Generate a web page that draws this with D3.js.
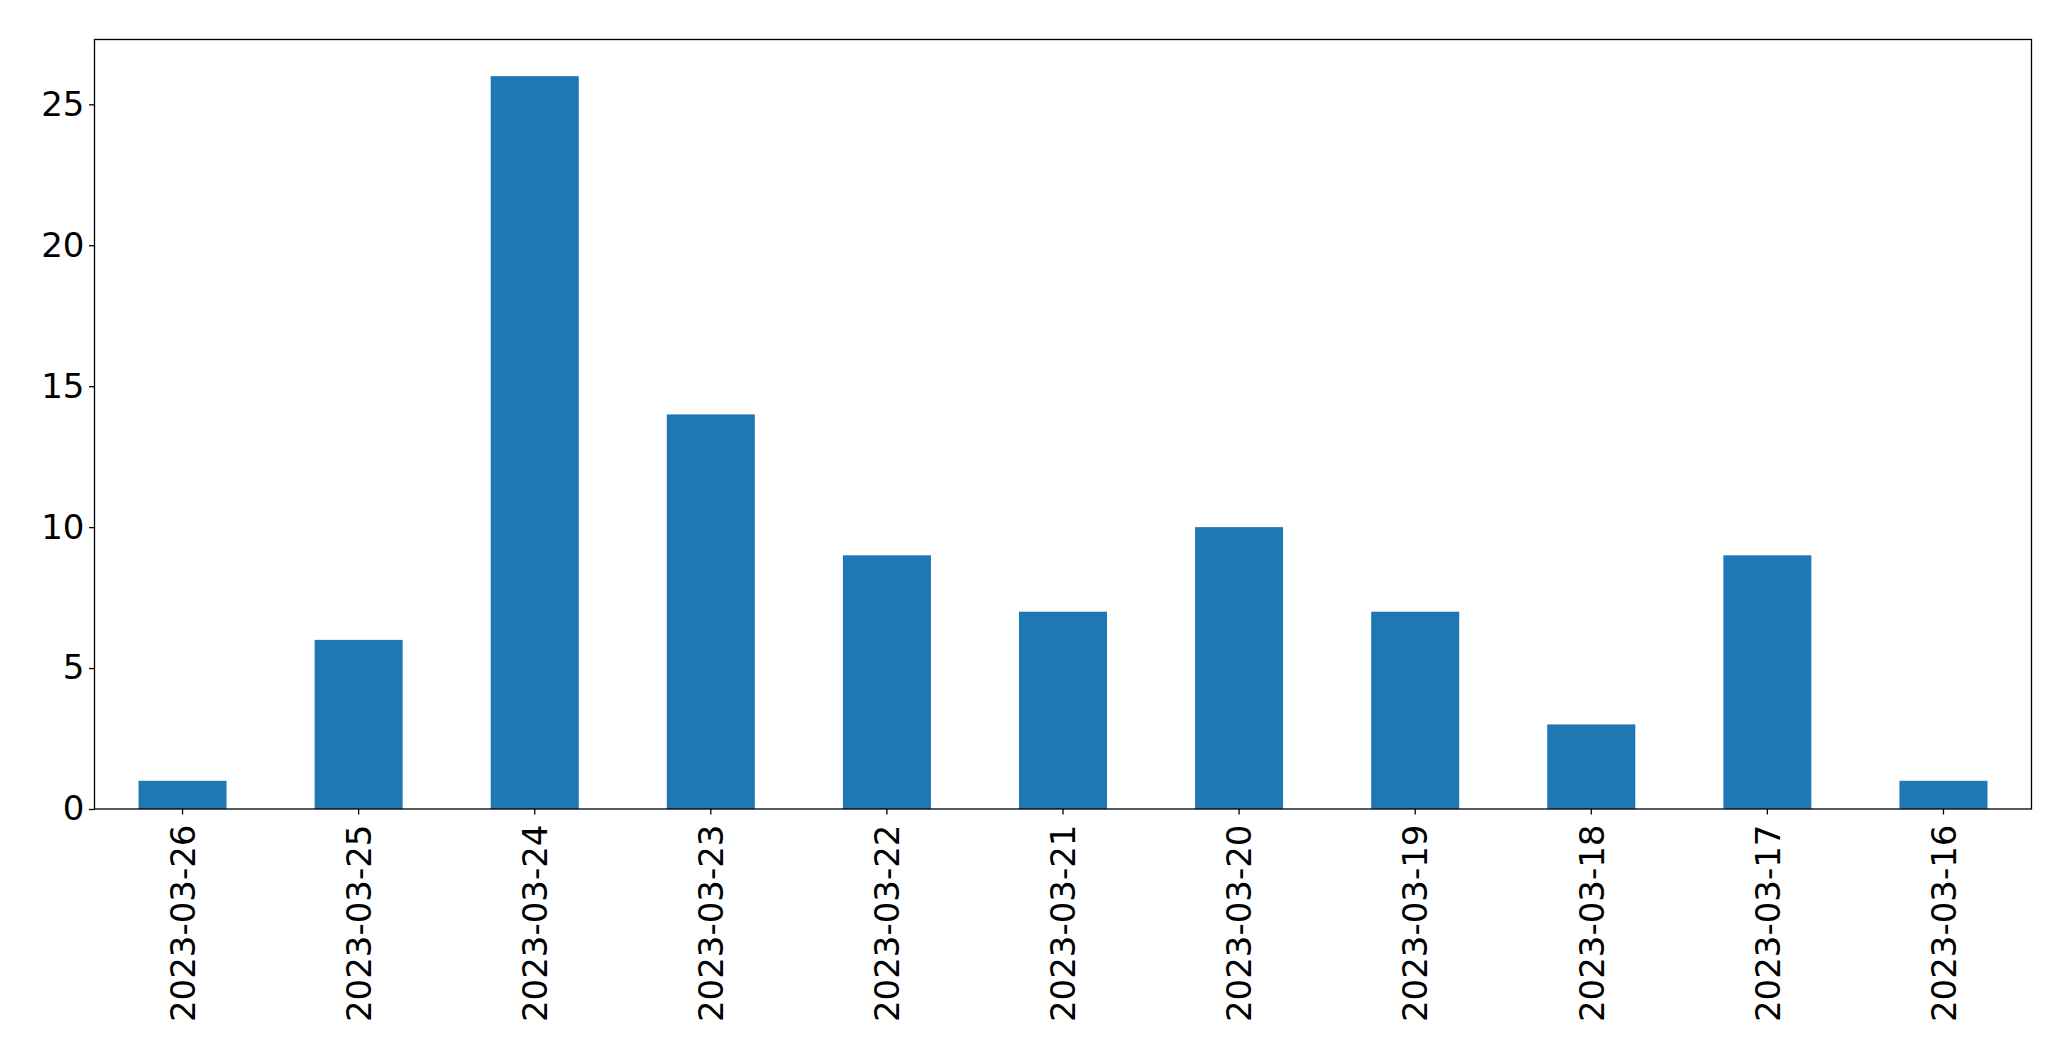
<!DOCTYPE html>
<html><head><meta charset="utf-8">
<script src="https://cdn.jsdelivr.net/npm/d3@7"></script>
<style>html,body{margin:0;padding:0;background:#fff;}svg{display:block;}</style>
</head><body>
<script>
const categories = ["2023-03-26","2023-03-25","2023-03-24","2023-03-23","2023-03-22","2023-03-21","2023-03-20","2023-03-19","2023-03-18","2023-03-17","2023-03-16"];
const values = [1,6,26,14,9,7,10,7,3,9,1];
const yTicks = [0,5,10,15,20,25];

const W = 2071, H = 1061;
const m = {left: 94.5, top: 39.5, right: 2071-2031.5, bottom: 1061-809};
const iw = W - m.left - m.right, ih = H - m.top - m.bottom;
const svg = d3.select("body").append("svg").attr("width", W).attr("height", H);
const g = svg.append("g").attr("transform", `translate(${m.left},${m.top})`);

const x = d3.scaleBand().domain(categories).range([0, iw]).paddingInner(0.5).paddingOuter(0.25);
const y = d3.scaleLinear().domain([0, d3.max(values)*1.05]).range([ih, 0]);

g.selectAll("rect.bar").data(values).join("rect").attr("class","bar")
  .attr("x", (d,i)=>x(categories[i])).attr("width", x.bandwidth())
  .attr("y", d=>y(d)).attr("height", d=>ih - y(d)).attr("fill", "#1f77b4");

const font = "DejaVu Sans";
const yAx = g.append("g").call(d3.axisLeft(y).tickValues(yTicks).tickSize(5.5).tickPadding(4.5).tickFormat(d3.format("d")));
yAx.select(".domain").remove();
yAx.selectAll("text").attr("font-family", font).attr("font-size", 34).attr("fill","#000");
yAx.selectAll("line").attr("stroke","#000").attr("stroke-width",1.3);

const xAx = g.append("g").attr("transform", `translate(0,${ih})`).call(d3.axisBottom(x).tickSize(5.5).tickSizeOuter(0));
xAx.select(".domain").remove();
xAx.selectAll("line").attr("stroke","#000").attr("stroke-width",1.3);
xAx.selectAll("text").attr("font-family", font).attr("font-size", 34).attr("fill","#000")
  .attr("text-anchor","end").attr("transform","rotate(-90)")
  .attr("x", -15.5).attr("y", 0).attr("dy","0.36em");

g.append("rect").attr("x",0).attr("y",0).attr("width",iw).attr("height",ih)
  .attr("fill","none").attr("stroke","#000").attr("stroke-width",1.3);
</script>
</body></html>
